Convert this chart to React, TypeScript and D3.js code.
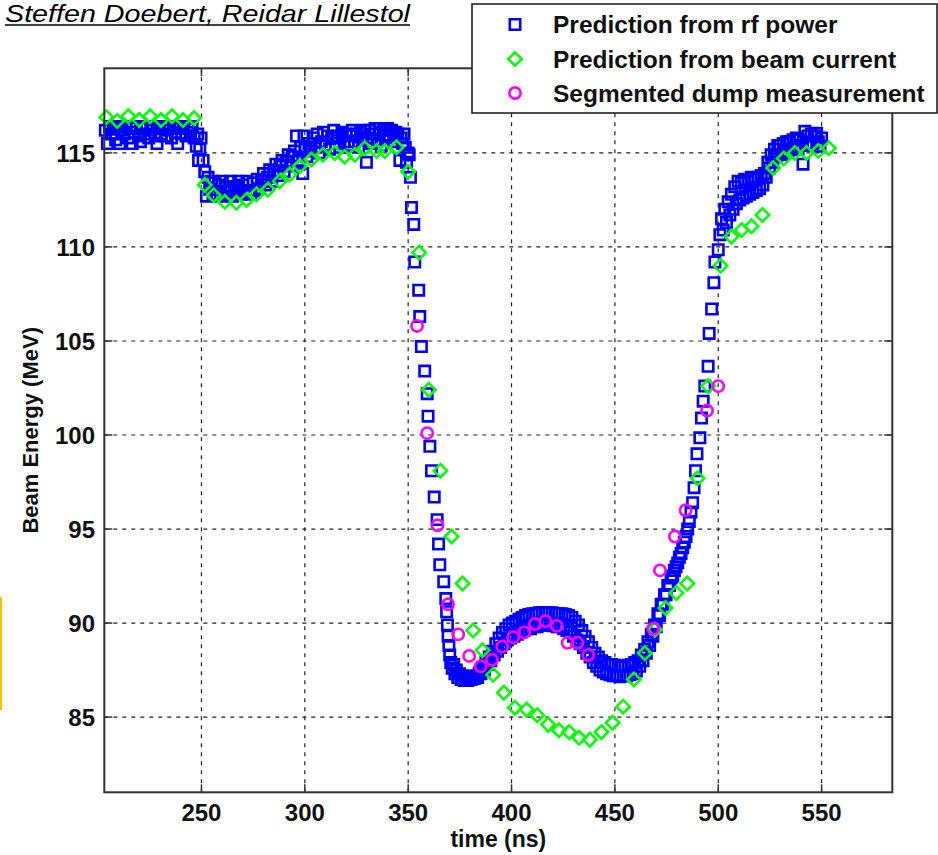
import React from 'react';
import * as d3 from 'd3';

const xTicks = [250, 300, 350, 400, 450, 500, 550];
const yTicks = [85, 90, 95, 100, 105, 110, 115];
const xDomain = [203, 584.2];
const yDomain = [81, 119.5];

const legendLabels = [
  'Prediction from rf power',
  'Prediction from beam current',
  'Segmented dump measurement',
];

// Prediction from rf power (time ns, energy MeV)
const rfPower: [number, number][] = [
  [203.5,116.2],[204.5,115.5],[205.5,116.4],[206.5,116.0],[207.5,116.3],[208.5,115.7],[209.5,116.4],[210.5,115.5],[211.5,116.2],[212.5,116.0],
  [213.5,116.4],[214.5,115.8],[215.5,116.3],[216.5,115.5],[217.5,116.1],[218.5,116.4],[219.5,115.9],[220.5,115.6],[221.5,116.3],[222.5,116.0],
  [223.5,116.4],[224.5,115.8],[225.5,116.2],[226.5,116.4],[227.5,115.9],[228.5,115.5],[229.5,116.3],[230.5,116.0],[231.5,116.4],[232.5,115.9],
  [233.5,116.2],[234.5,116.4],[235.5,115.8],[236.5,116.3],[237.5,116.1],[238.5,115.5],[239.5,116.3],[240.5,116.0],[241.5,116.4],[242.5,115.9],
  [243.5,116.3],[244.5,116.1],[245.5,116.4],[246.5,115.8],[247.5,115.35],
  [248.2,116.0],[248.6,114.6],[249.2,115.2],[249.8,115.8],[250.8,114.6],[251.6,114.0],[252.4,112.7],[253.2,113.7],[254,113.05],[254.8,113.5],
  [255.6,112.8],[256.5,113.4],[257.4,112.7],[258.3,113.3],[259.2,112.8],[260.1,113.5],[261,112.7],[262,113.2],[263,112.9],[264,113.5],
  [265,112.7],[266,113.2],[267,112.9],[268,113.5],[269,112.8],[270,113.3],[271,112.9],[272,113.5],[273,113.0],[274,112.8],
  [275,113.4],[276,113.0],[277,113.6],[278,113.1],[279,113.5],[280,113.9],[281,113.3],[282,113.7],[283,114.1],[284,113.5],
  [285,114.0],[286,114.4],[287,113.8],[288,114.3],[289,114.6],[290,114.0],[291,114.5],[292,114.9],[293,114.3],[294,114.8],
  [295,115.1],[296,115.9],[297,114.6],[298,115.3],[299,113.9],[299.6,115.9],[300.3,115.2],[301,114.8],[302,115.5],[303,115.1],
  [304,115.8],[305,115.3],[306,116.0],[307,115.0],[308,115.6],[309,116.1],[310,115.4],[311,115.9],[312,115.2],[313,115.8],
  [314,116.2],[315,115.5],[316,115.9],[317,115.3],[318,116.1],[319,115.6],[320,116.0],[321,115.4],[322,115.9],[323,116.2],
  [324,115.6],[325,116.0],[326,115.3],[327,116.1],[328,115.7],[329,116.2],[329.8,114.5],[330.6,115.8],[331.4,116.2],[332.2,115.5],
  [333,116.0],[334,116.3],[335,115.7],[336,116.1],[337,115.4],[338,116.2],[339,115.8],[340,116.3],[341,115.9],[342,116.2],
  [343,115.6],[344,116.1],[345,116.0],[346,114.6],[346.6,115.8],[347.3,115.5],[348,116.0],[348.6,115.3],[349.2,114.5],[350,115.0],
  [350.5,114.9],[351.1,113.7],[351.6,112.1],[352.7,111.2],[353.2,109.2],[355.1,107.7],[355.6,106.3],[356.4,104.7],[358,103.4],[359.2,102.2],
  [359.6,101.0],[360.5,99.4],[361.3,98.1],[362.6,96.7],[364,95.5],[364.7,94.2],[365.3,93.1],[367.2,92.2],[368.2,91.3],[368.6,90.6],
  [369,89.9],[369.3,89.3],[369.7,88.8],[370.1,88.3],[370.6,87.9],[371.3,87.6],[372,87.8],[372.6,87.3],[373.3,87.5],[374,87.1],
  [374.8,87.3],[375.6,87.0],[376.4,87.2],[377.2,86.95],[378,87.1],[378.8,86.95],[379.6,87.15],[380.4,87.0],[381.2,87.1],[382,87.05],
  [382.8,87.2],[383.6,87.1],[384.4,87.35],[385.2,87.3],[386,87.6],[386.8,87.5],[387.6,87.9],[388.4,87.8],[389.2,88.2],[390,88.0],
  [390.8,88.5],[391.6,88.3],[392.4,88.9],[393.2,88.5],[394,89.2],[394.8,88.7],[395.6,89.5],[396.4,88.9],[397.2,89.7],[398,89.1],
  [398.8,89.9],[399.6,89.2],[400.4,90.0],[401.2,89.3],[402,90.1],[402.8,89.4],[403.6,90.2],[404.4,89.5],[405.2,90.3],[406,89.6],
  [406.8,90.4],[407.6,89.7],[408.4,90.45],[409.2,89.7],[410,90.5],[410.8,89.8],[411.6,90.5],[412.4,89.8],[413.2,90.55],[414,89.9],
  [414.8,90.55],[415.6,89.9],[416.4,90.55],[417.2,89.9],[418,90.55],[418.8,89.9],[419.6,90.55],[420.4,89.85],[421.2,90.5],[422,89.8],
  [422.8,90.5],[423.6,89.8],[424.4,90.5],[425.2,89.7],[426,90.45],[426.8,89.6],[427.6,90.4],[428.4,89.5],[429.2,90.3],[430,89.3],
  [430.8,90.1],[431.6,89.1],[432.4,89.9],[433.2,88.9],[434,89.6],[434.8,88.7],[435.6,89.3],[436.4,88.4],[437.2,89.0],[438,88.2],
  [438.8,88.7],[439.6,87.9],[440.4,88.4],[441.2,87.7],[442,88.2],[442.8,87.5],[443.6,88.0],[444.4,87.4],[445.2,87.9],[446,87.3],
  [446.8,87.8],[447.6,87.25],[448.4,87.8],[449.2,87.2],[450,87.75],[450.8,87.2],[451.6,87.7],[452.4,87.15],[453.2,87.7],[454,87.2],
  [454.8,87.7],[455.6,87.2],[456.4,87.75],[457.2,87.25],[458,87.8],[458.8,87.3],[459.6,87.9],[460.4,87.45],[461.2,88.0],[462,87.7],
  [462.8,88.3],[463.6,88.0],[464.4,88.6],[465.2,88.4],[466,89.0],[466.8,88.8],[467.6,89.4],[468.4,89.3],[469.2,89.9],[470,89.8],
  [470.8,90.5],[471.6,90.4],[472.4,91.0],[473.2,91.0],[474,91.5],[474.8,91.5],[475.6,92.0],[476.4,92.0],[477.2,92.4],[478,92.5],
  [478.8,92.8],[479.6,93.0],[480.4,93.2],[481.2,93.5],[482,93.7],[482.8,94.0],[483.6,94.3],[484.4,94.6],[485.2,95.0],[486,95.4],
  [486.8,95.9],[487.6,96.4],[488.3,97.2],[489,98.1],[489.7,99.0],[491.1,99.85],[491.9,100.9],[492.7,101.8],[493.5,102.6],[495.1,103.65],
  [495.6,105.4],[496.8,106.7],[497.9,108.1],[498.4,109.2],[500,109.85],[500.8,110.65],[501.6,111.5],[502.4,110.9],[503.2,112.0],[504,111.3],
  [504.8,112.4],[505.6,111.7],[506.4,112.8],[507.2,112.0],[508,113.2],[508.8,112.3],[509.6,113.5],[510.4,112.5],[511.2,113.4],[512,112.6],
  [512.8,113.6],[513.6,112.7],[514.4,113.5],[515.2,112.8],[516,113.7],[516.8,112.9],[517.6,113.6],[518.4,113.0],[519.2,113.7],[520,113.1],
  [520.8,113.8],[521.6,113.3],[522.4,113.9],[523.2,113.7],[524,114.5],[524.8,114.2],[525.6,114.9],[526.4,114.5],[527.2,115.2],[528,114.8],
  [528.8,115.4],[529.8,115.4],[530.6,114.9],[531.4,115.5],[532.2,115.0],[533,115.6],[533.8,115.1],[534.6,115.6],[535.4,115.2],[536.2,115.7],
  [537,115.3],[537.8,115.8],[538.6,115.2],[539.4,115.7],[540.2,115.4],[541,114.4],[541.9,116.15],[542.6,115.5],[543.4,115.9],[544.2,115.4],
  [545,116.0],[545.8,115.5],[546.6,115.9],[547.6,116.05],[548.4,115.6],[549.2,115.35],[550,115.8],
];

// Prediction from beam current
const beamCurrent: [number, number][] = [
  [204,116.9],[209.3,116.7],[214.6,116.95],[219.9,116.75],[225.2,116.95],[230.5,116.75],[235.8,116.95],[241.1,116.75],[246.4,116.85],
  [251.6,113.3],[255.9,112.75],[261.3,112.4],[266.9,112.35],[271.8,112.5],[276.6,112.8],[282.2,113.05],[287.9,113.5],[292.7,113.85],
  [297.6,114.3],[303.2,114.65],[308.8,114.9],[314.5,115.0],[319.3,114.8],[324.2,114.9],[329,115.25],[334.7,115.1],[338.7,115.1],
  [344.4,115.3],[350,114.0],[355.3,109.7],[360,102.4],[365.6,98.1],[371,94.6],[376.3,92.1],[381.4,89.6],[386,88.55],
  [391.1,87.25],[396.3,86.3],[401.6,85.5],[407.3,85.4],[412.4,85.1],[417.7,84.6],[422.9,84.3],[427.9,84.2],[432.7,83.9],
  [437.9,83.8],[443.5,84.2],[448.9,84.7],[454,85.55],[459.2,87.0],[464.5,88.4],[469.3,89.65],[474.5,90.8],[479.7,91.6],
  [485,92.1],[490,97.7],[495.1,102.6],[501.1,109.0],[506.4,110.55],[511.3,110.9],[516.1,111.1],[521.4,111.7],[526.6,114.2],
  [531.7,114.7],[537,115.0],[542.7,115.0],[548.4,115.1],[553.5,115.25],
];

// Segmented dump measurement
const dumpMeasurement: [number, number][] = [
  [354.3,105.8],[359.2,100.1],[364.2,95.2],[369.3,91.0],[374.2,89.4],[379.5,88.25],[385.1,87.7],[390.5,88.05],[395.5,88.75],
  [400.8,89.25],[406.1,89.5],[411.3,89.95],[416.4,90.1],[421.8,89.85],[427.1,88.95],[431.9,88.95],[437.1,88.3],
  [468.5,89.7],[471.8,92.8],[479,94.6],[484.2,96.0],[494.6,101.3],[500,102.6],
];

const FONT = '"Liberation Sans", Arial, Helvetica, sans-serif';

export default function App() {
  const W = 938, H = 855;
  const L = 104.3, R = 892.3, T = 68.3, B = 792.3;
  const x = d3.scaleLinear().domain(xDomain).range([L, R]);
  const y = d3.scaleLinear().domain(yDomain).range([B, T]);

  const squarePath = d3.symbol().type(d3.symbolSquare).size(108)() as string;
  const diamondPath = d3.symbol().type(d3.symbolSquare).size(90)() as string;
  const circlePath = d3.symbol().type(d3.symbolCircle).size(100)() as string;

  const blue = '#0000ff', green = '#00ff00', magenta = '#ff00ff';
  const tickLen = 8;
  const mw = 2.6;

  const legendX = 515;
  const legendRows = [24.5, 59, 93];
  const legendBase = [33, 67.5, 101.5];

  return (
    <div style={{ position: 'absolute', left: 0, top: 0, width: W, height: H, background: '#fff' }}>
      <svg width={W} height={H} viewBox={`0 0 ${W} ${H}`} style={{ display: 'block', fontFamily: FONT }}>
        <rect x={0} y={0} width={W} height={H} fill="#fff" />

        {/* side marker */}
        <rect x={0} y={597} width={2} height={113} fill="#ffc000" />

        {/* author title */}
        <text x={5} y={22} fontSize={23.5} fontStyle="italic" fill="#000" textLength={405} lengthAdjust="spacingAndGlyphs">
          Steffen Doebert, Reidar Lillestol
        </text>
        <line x1={5} x2={410} y1={25} y2={25} stroke="#000" strokeWidth={1.5} />

        {/* grid */}
        <g stroke="#222" strokeWidth={1.2} strokeDasharray="4,5">
          {xTicks.map(t => (
            <line key={'gx' + t} x1={x(t)} x2={x(t)} y1={T} y2={B} />
          ))}
          {yTicks.map(t => (
            <line key={'gy' + t} x1={L} x2={R} y1={y(t)} y2={y(t)} />
          ))}
        </g>

        {/* ticks */}
        <g stroke="#333" strokeWidth={1.5}>
          {xTicks.map(t => (
            <g key={'tx' + t}>
              <line x1={x(t)} x2={x(t)} y1={B} y2={B - tickLen} />
              <line x1={x(t)} x2={x(t)} y1={T} y2={T + tickLen} />
            </g>
          ))}
          {yTicks.map(t => (
            <g key={'ty' + t}>
              <line x1={L} x2={L + tickLen} y1={y(t)} y2={y(t)} />
              <line x1={R} x2={R - tickLen} y1={y(t)} y2={y(t)} />
            </g>
          ))}
        </g>

        {/* data */}
        <g fill="none" stroke={blue} strokeWidth={mw}>
          {rfPower.map((d, i) => (
            <path key={'b' + i} d={squarePath} transform={`translate(${x(d[0])},${y(d[1])})`} />
          ))}
        </g>
        <g fill="none" stroke={green} strokeWidth={mw}>
          {beamCurrent.map((d, i) => (
            <path key={'g' + i} d={diamondPath} transform={`translate(${x(d[0])},${y(d[1])}) rotate(45)`} />
          ))}
        </g>
        <g fill="none" stroke={magenta} strokeWidth={mw}>
          {dumpMeasurement.map((d, i) => (
            <path key={'m' + i} d={circlePath} transform={`translate(${x(d[0])},${y(d[1])})`} />
          ))}
        </g>

        {/* axes box */}
        <rect x={L} y={T} width={R - L} height={B - T} fill="none" stroke="#333" strokeWidth={2} />

        {/* tick labels */}
        <g fontSize={24} fontWeight="bold" fill="#111">
          {xTicks.map(t => (
            <text key={'lx' + t} x={x(t)} y={820.5} textAnchor="middle">{t}</text>
          ))}
          {yTicks.map(t => (
            <text key={'ly' + t} x={95} y={y(t)} dy="0.36em" textAnchor="end">{t}</text>
          ))}
        </g>

        {/* axis titles */}
        <text x={(L + R) / 2} y={847} fontSize={23} fontWeight="bold" textAnchor="middle" fill="#111">time (ns)</text>
        <text transform={`translate(38,${(T + B) / 2}) rotate(-90)`} fontSize={22} fontWeight="bold" textAnchor="middle" fill="#111">
          Beam Energy (MeV)
        </text>

        {/* legend */}
        <rect x={472} y={4} width={465} height={109} fill="#fff" stroke="#222" strokeWidth={1.6} />
        <path d={squarePath} transform={`translate(${legendX},${legendRows[0]})`} fill="none" stroke={blue} strokeWidth={mw} />
        <path d={diamondPath} transform={`translate(${legendX},${legendRows[1]}) rotate(45)`} fill="none" stroke={green} strokeWidth={mw} />
        <path d={circlePath} transform={`translate(${legendX},${legendRows[2]})`} fill="none" stroke={magenta} strokeWidth={mw} />
        <g fontSize={24.5} fontWeight="bold" fill="#111">
          {legendLabels.map((s, i) => (
            <text key={'leg' + i} x={553} y={legendBase[i]}>{s}</text>
          ))}
        </g>
      </svg>
    </div>
  );
}
